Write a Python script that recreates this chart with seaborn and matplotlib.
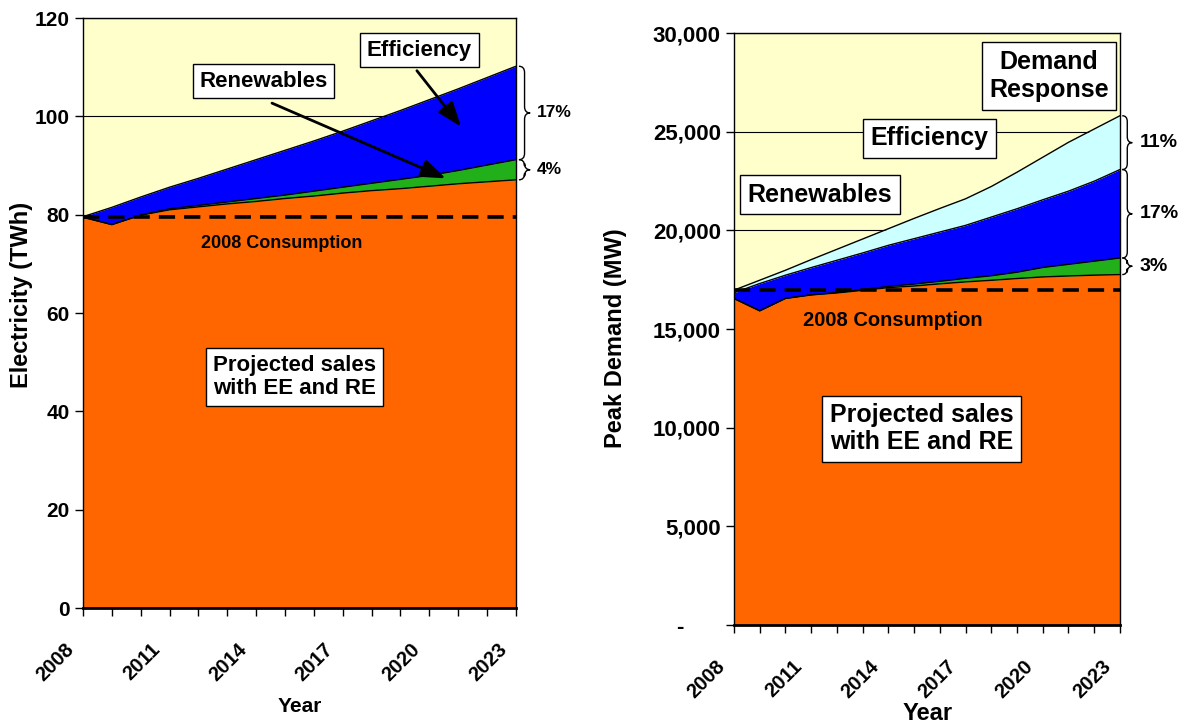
import numpy as np
import matplotlib
matplotlib.use("Agg")
import matplotlib.pyplot as plt
import matplotlib.transforms as mtransforms
from matplotlib.path import Path
from matplotlib.patches import PathPatch
from matplotlib.ticker import FuncFormatter
import seaborn as sns

sns.set_theme(style="white")
plt.rcParams["font.family"] = ["Liberation Sans", "DejaVu Sans"]
plt.rcParams["font.weight"] = "bold"
plt.rcParams["axes.labelweight"] = "bold"
for k in ["text.color", "axes.labelcolor", "xtick.color", "ytick.color"]:
    plt.rcParams[k] = "black"

# ------------------------------------------------------------------
# data (cumulative tops of each layer)
# ------------------------------------------------------------------
years = list(range(2008, 2024))

# left: electricity (TWh)
twh_sales = [79.5, 78.0, 79.9, 81.0, 81.6, 82.2, 82.7, 83.3, 83.8, 84.4, 84.9, 85.3, 85.8, 86.3, 86.7, 87.1]
twh_renew = [79.5, 78.0, 79.95, 81.2, 81.9, 82.6, 83.3, 84.0, 84.8, 85.6, 86.4, 87.2, 88.0, 89.0, 90.1, 91.2]
twh_effic = [79.6, 81.5, 83.6, 85.6, 87.4, 89.3, 91.2, 93.1, 95.0, 97.0, 99.1, 101.2, 103.4, 105.6, 107.9, 110.2]
twh_2008 = 79.6
twh_pct = ["4%", "17%"]

# right: peak demand (MW)
mw_sales = [16550, 15925, 16550, 16730, 16830, 16960, 17100, 17180, 17290, 17390, 17470, 17560, 17640, 17690, 17730, 17760]
mw_renew = [16550, 15925, 16555, 16735, 16850, 17000, 17160, 17280, 17420, 17570, 17700, 17880, 18120, 18280, 18440, 18600]
mw_effic = [16834, 17306, 17727, 18114, 18484, 18855, 19242, 19579, 19916, 20253, 20674, 21095, 21549, 21987, 22492, 23082]
mw_dr = [16970, 17474, 17979, 18518, 19040, 19562, 20084, 20606, 21111, 21600, 22223, 22947, 23705, 24463, 25136, 25810]
mw_2008 = 16970
mw_pct = ["3%", "17%", "11%"]

c_bg = "#FFFFCC"
c_sales = "#FF6600"
c_re = "#22B01A"
c_ee = "#0000FF"
c_dr = "#CCFFFF"

box = dict(boxstyle="square,pad=0.3", fc="white", ec="black", lw=1)
arrow = dict(arrowstyle="-|>,head_length=0.6,head_width=0.22", color="black", lw=2,
             mutation_scale=25, shrinkA=0, shrinkB=0)


def stack(ax, layers, colors):
    prev = np.zeros(len(years))
    for top, col in zip(layers, colors):
        ax.fill_between(years, prev, top, color=col, lw=0, zorder=2)
        sns.lineplot(x=years, y=top, ax=ax, color="black", lw=1, zorder=3)
        prev = np.array(top)


def brace(ax, y0, y1, x0, w, r):
    tr = mtransforms.blended_transform_factory(ax.transAxes, ax.transData)
    ym = (y0 + y1) / 2
    xm = x0 + w / 2
    verts = [(x0, y0), (xm, y0), (xm, y0 + r), (xm, ym - r), (xm, ym), (x0 + w, ym),
             (xm, ym), (xm, ym + r), (xm, y1 - r), (xm, y1), (x0, y1)]
    codes = [Path.MOVETO, Path.CURVE3, Path.CURVE3, Path.LINETO, Path.CURVE3, Path.CURVE3,
             Path.CURVE3, Path.CURVE3, Path.LINETO, Path.CURVE3, Path.CURVE3]
    ax.add_patch(PathPatch(Path(verts, codes), transform=tr, fc="none", ec="black",
                           lw=1, clip_on=False))


def style_axes(ax, ymax, ystep, size, xsize):
    ax.set_facecolor(c_bg)
    ax.set_xlim(2008, 2023)
    ax.set_ylim(0, ymax)
    ax.set_yticks(np.arange(0, ymax + 1, ystep))
    ax.set_xticks(range(2008, 2024, 3))
    ax.set_xticks(years, minor=True)
    ax.set_axisbelow(True)
    ax.grid(axis="y", color="black", lw=0.8)
    for s in ax.spines.values():
        s.set_visible(True)
        s.set_color("black")
        s.set_linewidth(1)
    ax.spines["bottom"].set_linewidth(2)
    ax.spines["bottom"].set_zorder(5)
    ax.tick_params(axis="both", which="both", direction="out", bottom=True, left=True,
                   length=6, width=1, color="black")
    ax.tick_params(axis="y", labelsize=size)
    ax.tick_params(axis="x", labelsize=xsize, pad=17)
    off = mtransforms.ScaledTranslation(-4 / 72, 0, ax.figure.dpi_scale_trans)
    for lab in ax.get_xticklabels():
        lab.set_rotation(45)
        lab.set_ha("right")
        lab.set_va("top")
        lab.set_transform(lab.get_transform() + off)


fig = plt.figure(figsize=(11.8, 7.23), dpi=100)
ax1 = fig.add_axes([0.0703, 0.1590, 0.3669, 0.8160])
ax2 = fig.add_axes([0.6220, 0.1355, 0.3271, 0.8188])

# ---------------- left panel ----------------
stack(ax1, [twh_sales, twh_renew, twh_effic], [c_sales, c_re, c_ee])
style_axes(ax1, 120, 20, 15, 14.5)
ax1.hlines(twh_2008, 2008, 2023, colors="black", lw=2.6, linestyles=(0, (4.5, 2.5)),
           zorder=4, clip_on=False)
ax1.set_ylabel("Electricity (TWh)", fontsize=17)
ax1.set_xlabel("Year", fontsize=15)
ax1.yaxis.set_label_coords(-0.115, 0.53)
ax1.xaxis.set_label_coords(0.5, -0.15)

ax1.text(2014.9, 74.2, "2008 Consumption", ha="center", va="center", fontsize=13)
ax1.text(2015.33, 47.0, "Projected sales\nwith EE and RE", ha="center", va="center",
         fontsize=16, linespacing=1.15, bbox=box)
ax1.annotate("", xy=(2020.57, 87.4), xytext=(2014.55, 102.7), arrowprops=arrow, zorder=6)
ax1.annotate("", xy=(2021.1, 97.9), xytext=(2019.57, 109.3), arrowprops=arrow, zorder=6)
ax1.text(2014.25, 107.2, "Renewables", ha="center", va="center", fontsize=16, bbox=box, zorder=7)
ax1.text(2019.66, 113.5, "Efficiency", ha="center", va="center", fontsize=16, bbox=box, zorder=7)

edges = [twh_sales[-1], twh_renew[-1], twh_effic[-1]]
for lo, hi, lab in zip(edges[:-1], edges[1:], twh_pct):
    brace(ax1, lo, hi, 1.007, 0.026, 1.3)
    ax1.text(1.048, (lo + hi) / 2, lab, transform=mtransforms.blended_transform_factory(
        ax1.transAxes, ax1.transData), ha="left", va="center", fontsize=12.5)

# ---------------- right panel ----------------
stack(ax2, [mw_sales, mw_renew, mw_effic, mw_dr], [c_sales, c_re, c_ee, c_dr])
style_axes(ax2, 30000, 5000, 16, 14.5)
ax2.yaxis.set_major_formatter(FuncFormatter(lambda v, p: "{:,.0f}".format(v) if v else "-" + " " * 6))
ax2.hlines(mw_2008, 2008, 2023, colors="black", lw=2.6, linestyles=(0, (4.5, 2.5)),
           zorder=4, clip_on=False)
ax2.set_ylabel("Peak Demand (MW)", fontsize=17)
ax2.set_xlabel("Year", fontsize=17)
ax2.yaxis.set_label_coords(-0.277, 0.485)
ax2.xaxis.set_label_coords(0.503, -0.13)

ax2.text(2014.18, 15430, "2008 Consumption", ha="center", va="center", fontsize=14.5)
ax2.text(2015.3, 9943, "Projected sales\nwith EE and RE", ha="center", va="center",
         fontsize=18, linespacing=1.15, bbox=box)
ax2.text(2011.34, 21808, "Renewables", ha="center", va="center", fontsize=18, bbox=box)
ax2.text(2015.6, 24680, "Efficiency", ha="center", va="center", fontsize=18, bbox=box)
ax2.text(2020.24, 27823, "Demand\nResponse", ha="center", va="center", fontsize=18,
         linespacing=1.25, bbox=box)

edges = [mw_sales[-1], mw_renew[-1], mw_effic[-1], mw_dr[-1]]
for lo, hi, lab in zip(edges[:-1], edges[1:], mw_pct):
    brace(ax2, lo, hi, 1.006, 0.026, 300)
    ax2.text(1.052, (lo + hi) / 2, lab, transform=mtransforms.blended_transform_factory(
        ax2.transAxes, ax2.transData), ha="left", va="center", fontsize=14)

fig.savefig("out.png", dpi=100)
